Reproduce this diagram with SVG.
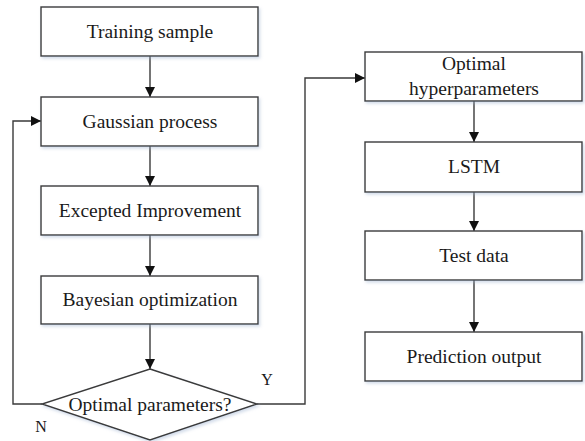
<svg xmlns="http://www.w3.org/2000/svg" width="585" height="441" viewBox="0 0 585 441">
  <style>
    .box { fill: #ffffff; stroke: #3a3a3a; stroke-width: 1.4; filter: url(#shadow); }
    .lbl { font-size: 19.5px; fill: #1a1a1a; text-anchor: middle; }
    .yn { font-size: 16px; fill: #1a1a1a; text-anchor: middle; }
    .wire { fill: none; stroke: #3a3a3a; stroke-width: 1.4; }
  </style>
  <defs>
    <marker id="arrow" viewBox="0 0 10 10" refX="10" refY="5" markerWidth="10" markerHeight="10" markerUnits="userSpaceOnUse" orient="auto">
      <path d="M0,0 L10,5 L0,10 Z" fill="#111111"/>
    </marker>
    <filter id="shadow" x="-10%" y="-20%" width="125%" height="150%">
      <feDropShadow dx="1.5" dy="2" stdDeviation="1.5" flood-color="#9fb4d0" flood-opacity="0.45"/>
    </filter>
  </defs>

  <rect width="585" height="441" fill="#ffffff"/>

  <g font-family="Liberation Serif, Tinos, Times New Roman, DejaVu Serif, serif">
  <!-- connectors -->
  <g id="connectors">
    <line class="wire" x1="150" y1="56" x2="150" y2="97" marker-end="url(#arrow)"/>
    <line class="wire" x1="150" y1="146" x2="150" y2="186" marker-end="url(#arrow)"/>
    <line class="wire" x1="150" y1="235" x2="150" y2="276" marker-end="url(#arrow)"/>
    <line class="wire" x1="150" y1="324" x2="150" y2="369" marker-end="url(#arrow)"/>
    <polyline class="wire" points="42,404 13,404 13,121 41,121" marker-end="url(#arrow)"/>
    <polyline class="wire" points="257,404 305,404 305,78 365,78" marker-end="url(#arrow)"/>
    <line class="wire" x1="474" y1="101" x2="474" y2="142" marker-end="url(#arrow)"/>
    <line class="wire" x1="474" y1="192" x2="474" y2="231" marker-end="url(#arrow)"/>
    <line class="wire" x1="474" y1="280" x2="474" y2="332" marker-end="url(#arrow)"/>
    <text class="yn" x="267" y="385">Y</text>
    <text class="yn" x="41" y="432">N</text>
  </g>

  <!-- left column -->
  <g id="training-sample">
    <rect class="box" x="41" y="7" width="217" height="49"/>
    <text class="lbl" x="150" y="38">Training sample</text>
  </g>
  <g id="gaussian-process">
    <rect class="box" x="41" y="97" width="217" height="49"/>
    <text class="lbl" x="150" y="128">Gaussian process</text>
  </g>
  <g id="expected-improvement">
    <rect class="box" x="41" y="186" width="217" height="49"/>
    <text class="lbl" x="150" y="217">Excepted Improvement</text>
  </g>
  <g id="bayesian-optimization">
    <rect class="box" x="41" y="276" width="217" height="48"/>
    <text class="lbl" x="150" y="306">Bayesian optimization</text>
  </g>
  <g id="optimal-parameters">
    <polygon class="box" points="150,369 257,404 150,440 42,404"/>
    <text class="lbl" x="150" y="411">Optimal parameters?</text>
  </g>

  <!-- right column -->
  <g id="optimal-hyperparameters">
    <rect class="box" x="365" y="52" width="217" height="49"/>
    <text class="lbl" x="474" y="70">Optimal</text>
    <text class="lbl" x="474" y="95">hyperparameters</text>
  </g>
  <g id="lstm">
    <rect class="box" x="365" y="142" width="217" height="50"/>
    <text class="lbl" x="474" y="173">LSTM</text>
  </g>
  <g id="test-data">
    <rect class="box" x="365" y="231" width="217" height="49"/>
    <text class="lbl" x="474" y="262">Test data</text>
  </g>
  <g id="prediction-output">
    <rect class="box" x="365" y="332" width="217" height="49"/>
    <text class="lbl" x="474" y="363">Prediction output</text>
  </g>
  </g>
</svg>
